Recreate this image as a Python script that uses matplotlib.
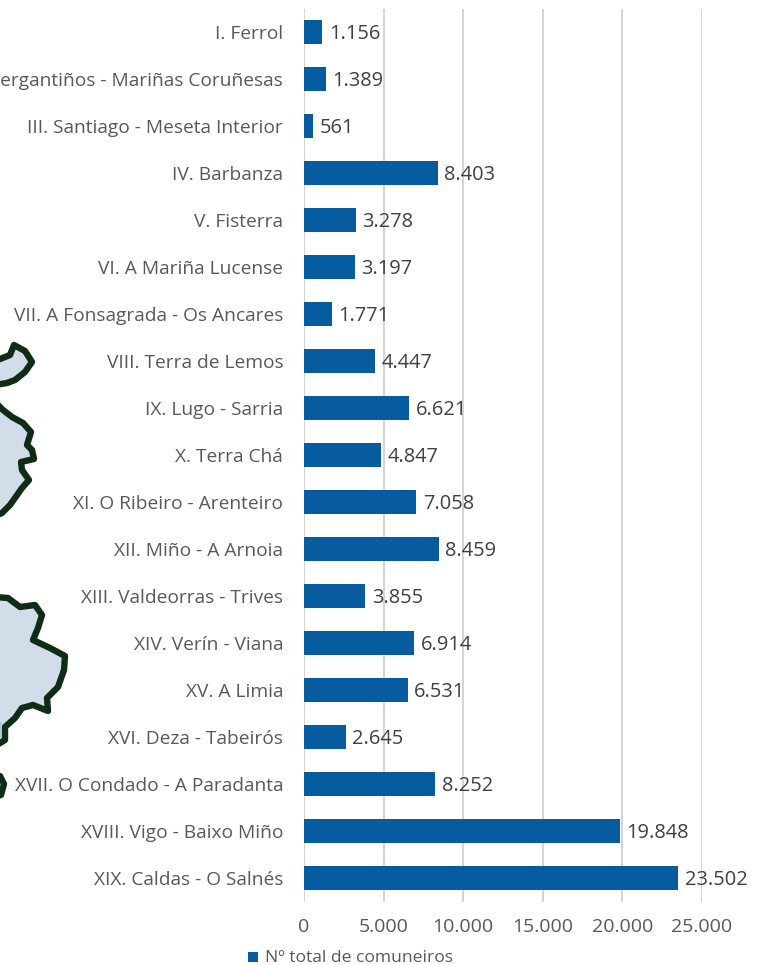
import matplotlib
matplotlib.use("Agg")
from matplotlib import pyplot as plt
from matplotlib.patches import Polygon, Rectangle

W, H = 766, 965

comarcas = ["I. Ferrol", "II. Bergantiños - Mariñas Coruñesas", "III. Santiago - Meseta Interior",
            "IV. Barbanza", "V. Fisterra", "VI. A Mariña Lucense", "VII. A Fonsagrada - Os Ancares",
            "VIII. Terra de Lemos", "IX. Lugo - Sarria", "X. Terra Chá", "XI. O Ribeiro - Arenteiro",
            "XII. Miño - A Arnoia", "XIII. Valdeorras - Trives", "XIV. Verín - Viana", "XV. A Limia",
            "XVI. Deza - Tabeirós", "XVII. O Condado - A Paradanta", "XVIII. Vigo - Baixo Miño",
            "XIX. Caldas - O Salnés"]
comuneiros = [1156, 1389, 561, 8403, 3278, 3197, 1771, 4447, 6621, 4847, 7058, 8459, 3855,
              6914, 6531, 2645, 8252, 19848, 23502]
xticks = [0, 5000, 10000, 15000, 20000, 25000]
legend_label = "Nº total de comuneiros"

# background map pieces, in image pixels
map_a = [(-5, 361), (10, 355), (14, 345), (25, 351), (32, 362), (25, 372), (15, 380), (7, 383), (-5, 385)]
map_b = [(-5, 402), (3, 410), (12, 417), (23, 423), (31, 432), (27, 445), (32, 450), (34, 459), (21, 462),
         (22, 470), (29, 480), (22, 488), (10, 505), (2, 513), (-5, 516)]
map_c = [(-5, 597), (8, 598), (20, 607), (35, 605), (42, 615), (38, 628), (33, 640), (50, 648), (65, 656),
         (64, 670), (58, 687), (47, 698), (48, 711), (33, 705), (22, 708), (15, 718), (5, 727), (5, 740), (-5, 746)]
map_d = [(-5, 776), (0, 776), (4, 784), (1, 795), (-5, 797)]

GREY = "#595959"
BLUE = "#075c9f"
plt.rcParams["font.family"] = ["Open Sans", "DejaVu Sans"]

fig = plt.figure(figsize=(W / 100, H / 100), dpi=100)
ax = fig.add_axes([304 / W, 1 - 901.5 / H, 398 / W, 893 / H])

bg = fig.add_axes([0, 0, 1, 1], zorder=-1)
bg.set_xlim(0, W)
bg.set_ylim(H, 0)
bg.axis("off")
for pts in (map_a, map_b, map_c, map_d):
    bg.add_patch(Polygon(pts, closed=True, fc="#d3dde9", ec="#0f2c14", lw=4.6, joinstyle="round"))
bg.add_patch(Rectangle((-1, 722), 3, 16, fc="#a9cbd8", ec="none"))

ypos = list(range(len(comarcas)))
ax.barh(ypos, comuneiros, height=0.51, color=BLUE, zorder=3)
ax.set_xlim(0, 25000)
ax.set_ylim(len(comarcas) - 0.5, -0.5)
ax.patch.set_alpha(0)

for y, v in zip(ypos, comuneiros):
    txt = f"{v:,}".replace(",", ".")
    ax.annotate(txt, (v, y), xytext=(4.6, -1.6), textcoords="offset points", va="center", ha="left",
                color="#404040", fontsize=14.4)

ax.set_yticks(ypos, comarcas)
ax.set_xticks(xticks, [f"{t:,}".replace(",", ".") for t in xticks])
ax.tick_params(axis="y", length=0, pad=15, labelsize=13.8, labelcolor=GREY)
ax.tick_params(axis="x", length=0, pad=12, labelsize=14, labelcolor=GREY)
ax.xaxis.grid(True, color="#d4d4d4", lw=1.4, zorder=0)
ax.set_axisbelow(True)
for s in ax.spines.values():
    s.set_visible(False)

# legend entry
fig.patches.append(Rectangle((248 / W, 1 - 961.5 / H), 10 / W, 10 / H, transform=fig.transFigure,
                             fc=BLUE, ec="none"))
fig.text(265 / W, 1 - 957.5 / H, legend_label, color=GREY, fontsize=12.6, va="center", ha="left")

fig.savefig("out.png", dpi=100)
